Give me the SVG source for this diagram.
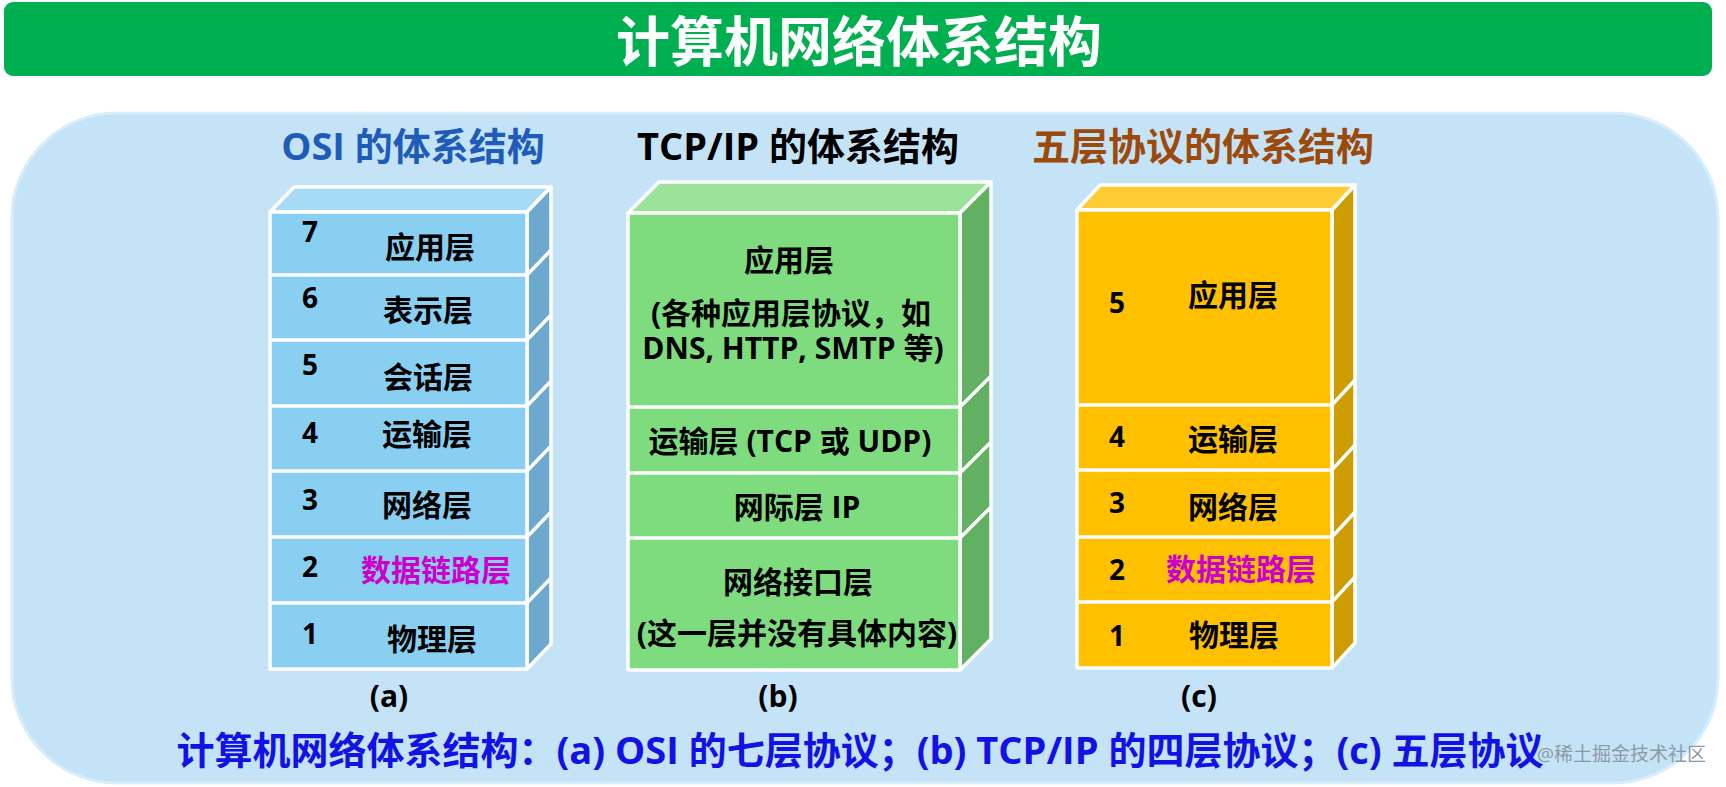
<svg xmlns="http://www.w3.org/2000/svg" width="1726" height="787" viewBox="0 0 1726 787">
<style>
text{font-family:"Open Sans","Noto Sans CJK SC",sans-serif;font-weight:bold;text-anchor:middle}
.lbl{font-size:30px;fill:#000}
.num{font-size:28px;fill:#000}
.mag{fill:#CC00CC}
.face{stroke:#fff;stroke-width:3.5;stroke-linejoin:round}
.div{stroke:#fff;stroke-width:3.5;fill:none}
.bF{fill:#89CFF1}.bT{fill:#A6DBF5}.bS{fill:#6DA9CF}
.gF{fill:#7EDC7E}.gT{fill:#9BE39B}.gS{fill:#62B062}
.yF{fill:#FFC000}.yT{fill:#FFCC33}.yS{fill:#CC9C00}
.head{font-size:38px}
</style>
<rect width="1726" height="787" fill="#fff"/>
<g id="title">
<rect x="4" y="2" width="1708" height="74" rx="9" fill="#00B050"/>
<text x="859" y="62" style="font-size:54px;fill:#fff">计算机网络体系结构</text>
</g>
<g id="panel">
<rect x="12" y="113" width="1706" height="670" rx="105" fill="#C4E3F7" stroke="#D6EDFB" stroke-width="3"/>
</g>
<g id="headings">
<text id="h-osi" class="head" x="413" y="160" fill="#1F5BB8">OSI 的体系结构</text>
<text id="h-tcp" class="head" x="798" y="160" fill="#000">TCP/IP 的体系结构</text>
<text id="h-five" class="head" x="1203" y="160" fill="#9C4A0C">五层协议的体系结构</text>
</g>
<g id="osi">
<polygon class="face bT" points="270,212 294,187 551,187 527,212"/>
<polygon class="face bS" points="527,212 551,187 551,644 527,669"/>
<rect class="face bF" x="270" y="212" width="257" height="457"/>
<path class="div" d="M270,275H527L551,250M270,340H527L551,315M270,406H527L551,381M270,471H527L551,446M270,537H527L551,512M270,603H527L551,578"/>
<g id="osi-7"><text class="num" x="310" y="242">7</text><text class="lbl" x="430" y="258">应用层</text></g>
<g id="osi-6"><text class="num" x="310" y="308">6</text><text class="lbl" x="428" y="321">表示层</text></g>
<g id="osi-5"><text class="num" x="310" y="375">5</text><text class="lbl" x="428" y="388">会话层</text></g>
<g id="osi-4"><text class="num" x="310" y="443">4</text><text class="lbl" x="427" y="445">运输层</text></g>
<g id="osi-3"><text class="num" x="310" y="510">3</text><text class="lbl" x="427" y="516">网络层</text></g>
<g id="osi-2"><text class="num" x="310" y="577">2</text><text class="lbl mag" x="436" y="581">数据链路层</text></g>
<g id="osi-1"><text class="num" x="310" y="644">1</text><text class="lbl" x="432" y="650">物理层</text></g>
<text id="cap-a" class="lbl" x="389" y="707">(a)</text>
</g>
<g id="tcpip">
<polygon class="face gT" points="628,213 659,182 991,182 960,213"/>
<polygon class="face gS" points="960,213 991,182 991,639 960,670"/>
<rect class="face gF" x="628" y="213" width="332" height="457"/>
<path class="div" d="M628,407H960L991,376M628,473H960L991,442M628,538H960L991,507"/>
<g id="tcp-app"><text class="lbl" x="789" y="271">应用层</text><text class="lbl"><tspan x="791" y="324">(各种应用层协议，如</tspan><tspan x="793" y="359">DNS, HTTP, SMTP 等)</tspan></text></g>
<g id="tcp-transport"><text class="lbl" x="790" y="452">运输层 (TCP 或 UDP)</text></g>
<g id="tcp-internet"><text class="lbl" x="797" y="518">网际层 IP</text></g>
<g id="tcp-link"><text class="lbl" x="798" y="593">网络接口层</text><text class="lbl" x="797" y="644">(这一层并没有具体内容)</text></g>
<text id="cap-b" class="lbl" x="778" y="707">(b)</text>
</g>
<g id="five">
<polygon class="face yT" points="1077,210 1100,185 1355,185 1332,210"/>
<polygon class="face yS" points="1332,210 1355,185 1355,643 1332,668"/>
<rect class="face yF" x="1077" y="210" width="255" height="458"/>
<path class="div" d="M1077,405H1332L1355,380M1077,470H1332L1355,445M1077,537H1332L1355,512M1077,602H1332L1355,577"/>
<g id="five-5"><text class="num" x="1117" y="313">5</text><text class="lbl" x="1233" y="306">应用层</text></g>
<g id="five-4"><text class="num" x="1117" y="447">4</text><text class="lbl" x="1233" y="450">运输层</text></g>
<g id="five-3"><text class="num" x="1117" y="513">3</text><text class="lbl" x="1233" y="518">网络层</text></g>
<g id="five-2"><text class="num" x="1117" y="580">2</text><text class="lbl mag" x="1241" y="580">数据链路层</text></g>
<g id="five-1"><text class="num" x="1117" y="646">1</text><text class="lbl" x="1234" y="646">物理层</text></g>
<text id="cap-c" class="lbl" x="1199" y="707">(c)</text>
</g>
<g id="connectors"/>
<g id="caption">
<text x="860" y="764" style="font-size:38px;fill:#1212E6">计算机网络体系结构：(a) OSI 的七层协议；(b) TCP/IP 的四层协议；(c) 五层协议</text>
<text x="1706" y="761" style="font-size:19px;font-weight:normal;fill:#8C9AA6;text-anchor:end">@稀土掘金技术社区</text>
</g>
</svg>
